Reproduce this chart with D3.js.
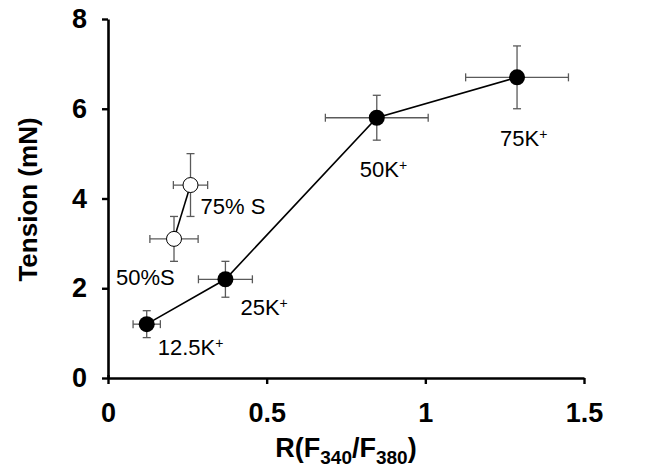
<!DOCTYPE html>
<html>
<head>
<meta charset="utf-8">
<script src="https://cdn.jsdelivr.net/npm/d3@7/dist/d3.min.js"></script>
<style>
  html, body { margin: 0; padding: 0; background: #fff; }
  svg { display: block; font-family: "Liberation Sans", Arial, Helvetica, sans-serif; }
</style>
</head>
<body>
<div id="chart"></div>
<script>
(function () {
  'use strict';

  // K+ depolarisation series (filled circles)
  var kLabels = ['12.5', '25', '50', '75'];
  var kRatio  = [0.122, 0.37, 0.847, 1.289];
  var kRatioErr = [0.043, 0.085, 0.162, 0.162];
  var kTension = [1.2, 2.2, 5.8, 6.7];
  var kTensionErr = [0.3, 0.4, 0.5, 0.7];

  // stretch series (open circles)
  var sLabels = ['50%S', '75% S'];
  var sRatio  = [0.208, 0.26];
  var sRatioErr = [0.076, 0.054];
  var sTension = [3.1, 4.3];
  var sTensionErr = [0.5, 0.7];

  var xTicks = [0, 0.5, 1, 1.5];
  var xTickLabels = ['0', '0.5', '1', '1.5'];
  var yTicks = [0, 2, 4, 6, 8];

  var W = 654, H = 475;
  var m = { left: 108, right: 70, top: 19, bottom: 97 };

  var svg = d3.select('#chart').append('svg')
    .attr('width', W).attr('height', H);

  var x = d3.scaleLinear().domain([0, 1.5]).range([m.left, W - m.right]);
  var y = d3.scaleLinear().domain([0, 8]).range([H - m.bottom, m.top]);

  function rows(lab, xs, xe, ys, ye) {
    return lab.map(function (l, i) {
      return { label: l, x: xs[i], xe: xe[i], y: ys[i], ye: ye[i] };
    });
  }
  var kData = rows(kLabels, kRatio, kRatioErr, kTension, kTensionErr);
  var sData = rows(sLabels, sRatio, sRatioErr, sTension, sTensionErr);

  /* axes */
  var xAxis = d3.axisBottom(x).tickValues(xTicks)
    .tickFormat(function (d, i) { return xTickLabels[i]; })
    .tickSize(6).tickSizeOuter(0).tickPadding(19);
  var yAxis = d3.axisLeft(y).tickValues(yTicks)
    .tickSize(6).tickSizeOuter(0).tickPadding(15);

  var gx = svg.append('g').attr('transform', 'translate(0,' + y(0) + ')').call(xAxis);
  var gy = svg.append('g').attr('transform', 'translate(' + x(0) + ',0)').call(yAxis);

  [gx, gy].forEach(function (g) {
    g.select('.domain').attr('stroke', '#000').attr('stroke-width', 2.6);
    g.selectAll('.tick line').attr('stroke', '#000').attr('stroke-width', 2.4);
    g.selectAll('.tick text')
      .attr('fill', '#000')
      .style('font-size', '27px')
      .style('font-weight', 'bold')
      .style('font-family', '"Liberation Sans", Arial, sans-serif');
  });
  // zero tick on x also pokes above the axis a little
  gx.select('.tick line').attr('y1', -3);

  /* axis titles */
  svg.append('text')
    .attr('transform', 'translate(37,' + ((y(0) + y(8)) / 2 + 1) + ') rotate(-90)')
    .attr('text-anchor', 'middle')
    .style('font-size', '26px').style('font-weight', 'bold')
    .text('Tension (mN)');

  var xt = svg.append('text')
    .attr('x', (x(0) + x(1.5)) / 2).attr('y', 457)
    .attr('text-anchor', 'middle')
    .style('font-size', '27px').style('font-weight', 'bold');
  xt.append('tspan').text('R(F');
  xt.append('tspan').attr('dy', 7).style('font-size', '19px').text('340');
  xt.append('tspan').attr('dy', -7).text('/F');
  xt.append('tspan').attr('dy', 7).style('font-size', '19px').text('380');
  xt.append('tspan').attr('dy', -7).text(')');

  /* series */
  var line = d3.line().x(function (d) { return x(d.x); }).y(function (d) { return y(d.y); });
  var cap = 4;

  function drawErr(data) {
    var g = svg.append('g').attr('stroke', '#5a5a5a').attr('stroke-width', 1.3).attr('fill', 'none');
    data.forEach(function (d) {
      var cx = x(d.x), cy = y(d.y);
      var x0 = x(d.x - d.xe), x1 = x(d.x + d.xe);
      var y0 = y(d.y - d.ye), y1 = y(d.y + d.ye);
      g.append('line').attr('x1', x0).attr('x2', x1).attr('y1', cy).attr('y2', cy);
      g.append('line').attr('x1', x0).attr('x2', x0).attr('y1', cy - cap).attr('y2', cy + cap);
      g.append('line').attr('x1', x1).attr('x2', x1).attr('y1', cy - cap).attr('y2', cy + cap);
      g.append('line').attr('x1', cx).attr('x2', cx).attr('y1', y0).attr('y2', y1);
      g.append('line').attr('x1', cx - cap).attr('x2', cx + cap).attr('y1', y0).attr('y2', y0);
      g.append('line').attr('x1', cx - cap).attr('x2', cx + cap).attr('y1', y1).attr('y2', y1);
    });
  }

  drawErr(kData);
  drawErr(sData);

  svg.append('path').datum(kData).attr('d', line)
    .attr('fill', 'none').attr('stroke', '#000').attr('stroke-width', 1.6);
  svg.append('path').datum(sData).attr('d', line)
    .attr('fill', 'none').attr('stroke', '#000').attr('stroke-width', 1.6);

  svg.selectAll('.kdot').data(kData).join('circle')
    .attr('cx', function (d) { return x(d.x); })
    .attr('cy', function (d) { return y(d.y); })
    .attr('r', 8).attr('fill', '#000');

  svg.selectAll('.sdot').data(sData).join('circle')
    .attr('cx', function (d) { return x(d.x); })
    .attr('cy', function (d) { return y(d.y); })
    .attr('r', 7.5).attr('fill', '#fff').attr('stroke', '#000').attr('stroke-width', 1);

  /* point labels, offset from the marker in px */
  var kOff = [[11, 31], [15, 36], [-17, 59], [-17, 69]];
  var sOff = [[-58, 46], [10, 29]];

  kData.forEach(function (d, i) {
    var t = svg.append('text')
      .attr('x', x(d.x) + kOff[i][0]).attr('y', y(d.y) + kOff[i][1])
      .style('font-size', '22px');
    t.append('tspan').text(d.label + 'K');
    t.append('tspan').attr('dy', -7).style('font-size', '14px').text('+');
  });

  sData.forEach(function (d, i) {
    svg.append('text')
      .attr('x', x(d.x) + sOff[i][0]).attr('y', y(d.y) + sOff[i][1])
      .style('font-size', '22px')
      .text(d.label);
  });
})();
</script>
</body>
</html>
